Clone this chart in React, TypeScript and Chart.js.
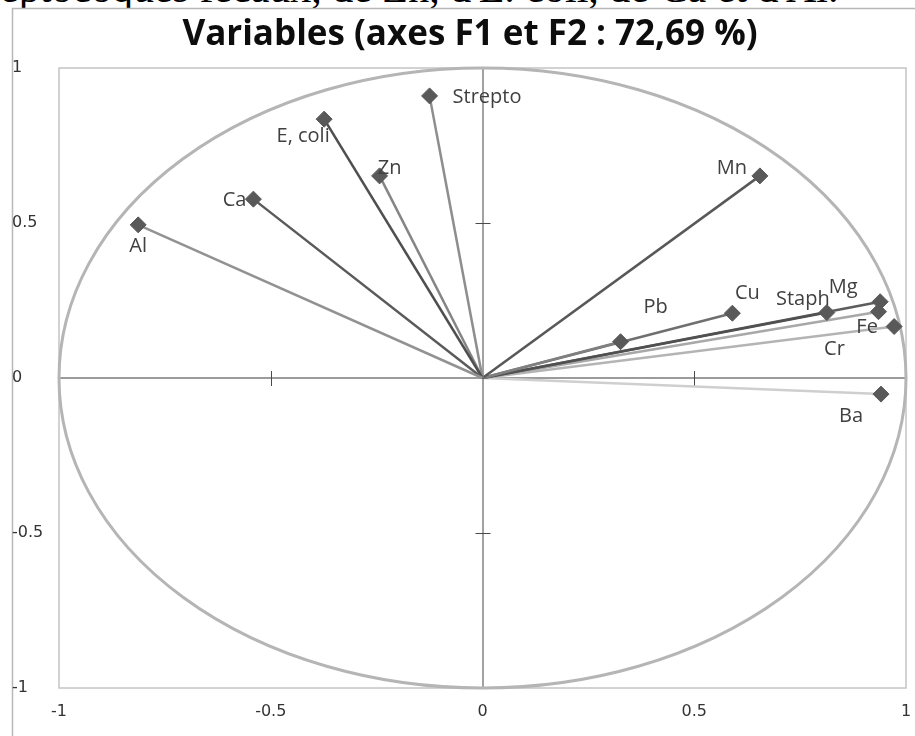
import { useEffect, useRef } from "react";
import { Chart, registerables } from "chart.js";

Chart.register(...registerables);

// ---- data ----
const variableNames = ["Al", "Ca", "E, coli", "Zn", "Strepto", "Mn", "Pb", "Cu", "Staph", "Mg", "Cr", "Fe", "Ba"];
const f1Values = [-0.813, -0.541, -0.374, -0.243, -0.125, 0.655, 0.326, 0.59, 0.813, 0.939, 0.935, 0.972, 0.941];
const f2Values = [0.494, 0.577, 0.835, 0.652, 0.91, 0.652, 0.117, 0.209, 0.211, 0.246, 0.214, 0.166, -0.052];
const axisTicks = [-1, -0.5, 0, 0.5, 1];
const xTickLabels = ["-1", "-0.5", "0", "0.5", "1"];
const yTickLabels = ["-1", "-0.5", "0", "0.5", "1"];
const chartTitle = "Variables (axes F1 et F2 : 72,69 %)";
const captionText = "eptocoques fécaux, de Zn, d'E. coli, de Ca et d'Al.";

// ---- styles ----
const lineColors = [
  "#929292", "#5a5a5a", "#4f4f4f", "#858585", "#8e8e8e", "#585858", "#808080",
  "#6f6f6f", "#505050", "#5c5c5c", "#a8a8a8", "#b4b4b4", "#cfcfcf",
];
const labelOffsets: [number, number, CanvasTextAlign][] = [
  [0, 21, "center"],
  [-7, 1, "right"],
  [-21, 17, "center"],
  [10, -8, "center"],
  [23, 1, "left"],
  [-28, -8, "center"],
  [35, -34, "center"],
  [15, -20, "center"],
  [-24, -13, "center"],
  [-37, -14, "center"],
  [-44, 38, "center"],
  [-27, 1, "center"],
  [-30, 22, "center"],
];

const decorPlugin = {
  id: "pcaDecor",
  beforeDraw(chart: any) {
    const { ctx, chartArea, width, height } = chart;
    ctx.save();
    ctx.fillStyle = "#ffffff";
    ctx.fillRect(12, 8, width - 12, height - 8);
    ctx.strokeStyle = "#b8b8b8";
    ctx.lineWidth = 1.5;
    ctx.beginPath();
    ctx.moveTo(12.5, height);
    ctx.lineTo(12.5, 8.5);
    ctx.lineTo(width, 8.5);
    ctx.stroke();
    ctx.strokeStyle = "#c4c4c4";
    ctx.lineWidth = 1.5;
    ctx.strokeRect(chartArea.left, chartArea.top, chartArea.right - chartArea.left, chartArea.bottom - chartArea.top);
    ctx.restore();
  },
  beforeDatasetsDraw(chart: any) {
    const { ctx } = chart;
    const xs = chart.scales.x;
    const ys = chart.scales.y;
    const cx = xs.getPixelForValue(0);
    const cy = ys.getPixelForValue(0);
    const rx = xs.getPixelForValue(1) - cx;
    const ry = cy - ys.getPixelForValue(1);
    ctx.save();
    // axes
    ctx.strokeStyle = "#7a7a7a";
    ctx.lineWidth = 1.5;
    ctx.beginPath();
    ctx.moveTo(xs.getPixelForValue(-1), cy);
    ctx.lineTo(xs.getPixelForValue(1), cy);
    ctx.stroke();
    ctx.strokeStyle = "#454545";
    ctx.lineWidth = 1;
    ctx.beginPath();
    ctx.moveTo(cx + 0.5, ys.getPixelForValue(1));
    ctx.lineTo(cx + 0.5, ys.getPixelForValue(-1));
    ctx.stroke();
    // tick marks at +/-0.5
    ctx.strokeStyle = "#4a4a4a";
    ctx.lineWidth = 1;
    ctx.beginPath();
    [-0.5, 0.5].forEach((v) => {
      const px = Math.round(xs.getPixelForValue(v)) + 0.5;
      ctx.moveTo(px, cy - 7);
      ctx.lineTo(px, cy + 8);
      const py = Math.round(ys.getPixelForValue(v)) + 0.5;
      ctx.moveTo(cx - 7, py);
      ctx.lineTo(cx + 8, py);
    });
    ctx.stroke();
    // correlation circle
    ctx.strokeStyle = "#b5b5b5";
    ctx.lineWidth = 3;
    ctx.beginPath();
    ctx.ellipse(cx, cy, rx, ry, 0, 0, Math.PI * 2);
    ctx.stroke();
    ctx.restore();
  },
  afterDatasetsDraw(chart: any) {
    const { ctx } = chart;
    const meta = chart.getDatasetMeta(0);
    ctx.save();
    ctx.font = "20px 'Open Sans'";
    ctx.fillStyle = "#404040";
    ctx.textBaseline = "middle";
    variableNames.forEach((name, i) => {
      const el = meta.data[i];
      if (!el) return;
      const [dx, dy, align] = labelOffsets[i];
      ctx.textAlign = align;
      ctx.fillText(name, el.x + dx, el.y + dy);
    });
    ctx.restore();
  },
  afterDraw(chart: any) {
    const { ctx } = chart;
    ctx.save();
    ctx.font = "bold 35px 'Open Sans'";
    ctx.fillStyle = "#0d0d0d";
    ctx.textAlign = "center";
    ctx.textBaseline = "alphabetic";
    ctx.fillText(chartTitle, 470, 45);
    ctx.restore();
  },
};

export default function App() {
  const canvasRef = useRef<HTMLCanvasElement | null>(null);

  useEffect(() => {
    const canvas = canvasRef.current;
    if (!canvas) return;

    const markerDataset = {
      label: "Variables",
      data: variableNames.map((_, i) => ({ x: f1Values[i], y: f2Values[i] })),
      showLine: false,
      pointStyle: "rectRot",
      pointRadius: 8,
      pointBackgroundColor: "#595959",
      pointBorderColor: "#595959",
      pointBorderWidth: 1,
      pointHoverRadius: 8,
      clip: false,
    };
    const vectorDatasets = variableNames.map((name, i) => ({
      label: name,
      data: [
        { x: 0, y: 0 },
        { x: f1Values[i], y: f2Values[i] },
      ],
      showLine: true,
      borderColor: lineColors[i],
      borderWidth: 2.5,
      pointRadius: 0,
      pointHoverRadius: 0,
    }));

    const tickFont = { family: "'DejaVu Sans'", size: 16 };

    const chart = new Chart(canvas, {
      type: "scatter",
      data: { datasets: [markerDataset, ...vectorDatasets] as any },
      options: {
        animation: false,
        responsive: false,
        devicePixelRatio: 1,
        events: [],
        layout: { padding: { left: 12, right: 9, top: 68, bottom: 0 } },
        plugins: {
          legend: { display: false },
          tooltip: { enabled: false },
          title: { display: false },
        },
        scales: {
          x: {
            type: "linear",
            min: -1,
            max: 1,
            grid: { display: false, drawTicks: false, tickLength: 0 },
            border: { display: false },
            afterBuildTicks: (scale: any) => {
              scale.ticks = axisTicks.map((v) => ({ value: v }));
            },
            afterFit: (scale: any) => {
              scale.height = 48;
              scale.paddingLeft = 0;
              scale.paddingRight = 0;
            },
            ticks: {
              font: tickFont,
              color: "#333333",
              padding: 14,
              maxRotation: 0,
              callback: (_v: any, i: number) => xTickLabels[i],
            },
          },
          y: {
            type: "linear",
            min: -1,
            max: 1,
            grid: { display: false, drawTicks: false, tickLength: 0 },
            border: { display: false },
            afterBuildTicks: (scale: any) => {
              scale.ticks = axisTicks.map((v) => ({ value: v }));
            },
            afterFit: (scale: any) => {
              scale.width = 47;
              scale.paddingTop = 0;
              scale.paddingBottom = 0;
            },
            ticks: {
              font: tickFont,
              color: "#333333",
              crossAlign: "far",
              callback: (_v: any, i: number) => yTickLabels[i],
            },
          },
        },
      } as any,
      plugins: [decorPlugin],
    });

    return () => chart.destroy();
  }, []);

  return (
    <div style={{ position: "absolute", left: 0, top: 0, width: 915, height: 736, overflow: "hidden", background: "#ffffff" }}>
      <div style={{ position: "absolute", left: 0, top: 0, width: 915, height: 8, overflow: "hidden" }}>
        <div
          style={{
            position: "absolute",
            left: 0,
            top: -32,
            fontFamily: "'Liberation Serif', serif",
            fontSize: 42,
            lineHeight: "40px",
            whiteSpace: "nowrap",
            color: "#000",
          }}
        >
          {captionText}
        </div>
      </div>
      <canvas
        ref={canvasRef}
        width={915}
        height={736}
        style={{ position: "absolute", left: 0, top: 0, width: 915, height: 736 }}
      />
    </div>
  );
}
